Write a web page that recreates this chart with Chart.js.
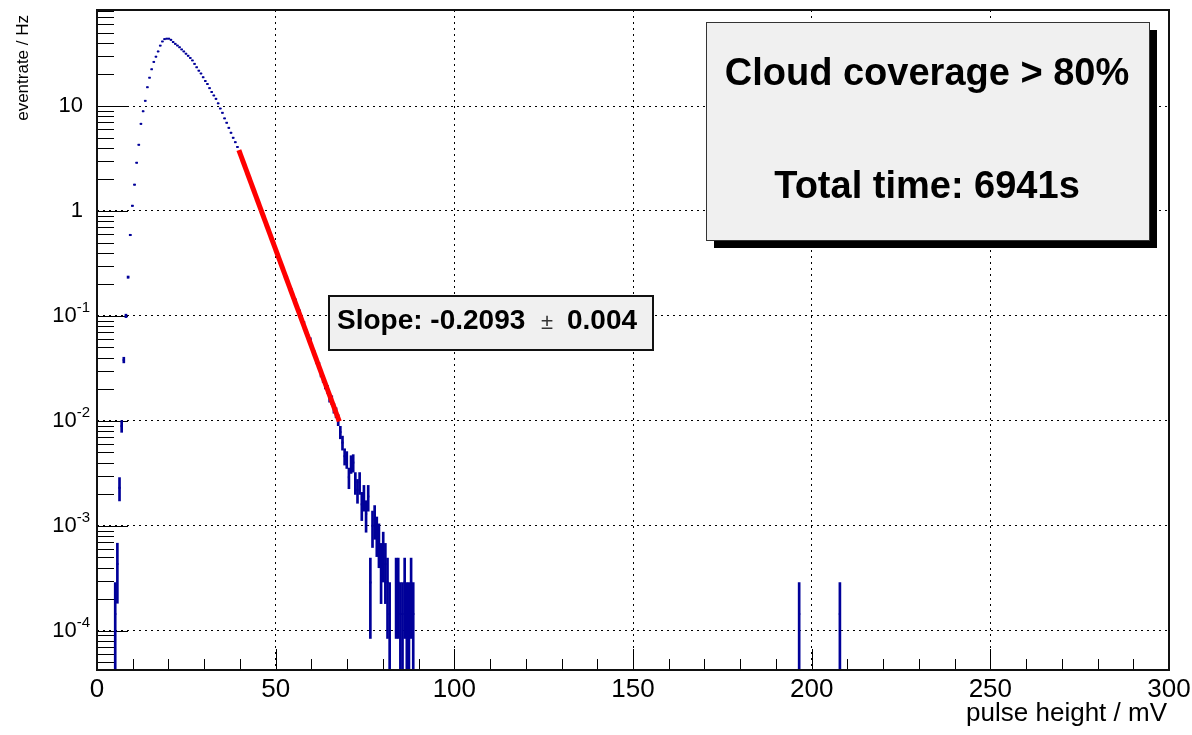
<!DOCTYPE html>
<html>
<head>
<meta charset="utf-8">
<script src="https://cdn.jsdelivr.net/npm/chart.js@4.4.0/dist/chart.umd.min.js"></script>
<style>
  html, body { margin: 0; padding: 0; background: #fff; }
  canvas { display: block; }
</style>
</head>
<body>
<canvas id="pulseChart" width="1192" height="735"></canvas>
<script>
const TOTAL_TIME = 6941; // s, rate = counts / time

// bin centres (mV) and event rate (Hz)
const pulseHeight = [
  5.1, 5.7, 6.3, 6.9, 7.5, 8.1, 8.7, 9.3, 9.9, 10.5, 11.1, 11.7, 12.3, 12.9, 13.5, 14.1,
  14.7, 15.3, 15.9, 16.5, 17.1, 17.7, 18.3, 18.9, 19.5, 20.1, 20.7, 21.3, 21.9, 22.5, 23.1,
  23.7, 24.3, 24.9, 25.5, 26.1, 26.7, 27.3, 27.9, 28.5, 29.1, 29.7, 30.3, 30.9, 31.5, 32.1,
  32.7, 33.3, 33.9, 34.5, 35.1, 35.7, 36.3, 36.9, 37.5, 38.1, 38.7, 39.3, 39.9, 40.5, 41.1,
  41.7, 42.3, 42.9, 43.5, 44.1, 44.7, 45.3, 45.9, 46.5, 47.1, 47.7, 48.3, 48.9, 49.5, 50.1,
  50.7, 51.3, 51.9, 52.5, 53.1, 53.7, 54.3, 54.9, 55.5, 56.1, 56.7, 57.3, 57.9, 58.5, 59.1,
  59.7, 60.3, 60.9, 61.5, 62.1, 62.7, 63.3, 63.9, 64.5, 65.1, 65.7, 66.3, 66.9, 67.5, 68.1,
  68.7, 69.3, 69.9, 70.5, 71.1, 71.7, 72.3, 72.9, 73.5, 74.1, 74.7, 75.3, 75.9, 76.5, 77.1,
  77.7, 78.3, 78.9, 79.5, 80.1, 80.7, 81.3, 81.9, 83.7, 84.3, 84.9, 85.5, 86.1, 86.7, 87.3,
  87.9, 88.5, 196.5, 207.9
];
const eventRate = [
  0.000144, 0.000432, 0.0023, 0.0089, 0.038, 0.100, 0.234, 0.59, 1.12, 1.78, 2.88, 4.27, 6.76, 8.91, 11.2, 15.1,
  18.6, 22.4, 26.3, 29.5, 33.1, 37.6, 41.2, 43.4, 43.8, 43.8, 42.7, 40.7, 39.1, 37.7, 36.3,
  34.6, 33.1, 31.5, 30.1, 28.7, 27.2, 25.2, 23.4, 21.7, 20.4, 18.8, 17.3, 16.2, 14.8, 13.6,
  12.6, 11.7, 10.6, 9.46, 8.61, 7.62, 6.92, 6.19, 5.56, 4.98, 4.52, 4.07, 3.63, 3.16, 2.82,
  2.51, 2.14, 1.95, 1.66, 1.51, 1.29, 1.17, 1.00, 0.89, 0.81, 0.69, 0.63, 0.54, 0.49, 0.42,
  0.38, 0.324, 0.295, 0.251, 0.234, 0.195, 0.178, 0.151, 0.141, 0.117, 0.110, 0.091, 0.085, 0.071, 0.063,
  0.059, 0.048, 0.0437, 0.0372, 0.0339, 0.0282, 0.0251, 0.0219, 0.0200, 0.0166, 0.0158, 0.0132, 0.0120, 0.0102, 0.0078,
  0.0062, 0.0046, 0.0043, 0.0029, 0.0039, 0.0040, 0.0026, 0.0022, 0.0026, 0.0016, 0.0019, 0.0013, 0.0019, 0.000288, 0.0010,
  0.00115, 0.00086, 0.00072, 0.00043, 0.00058, 0.00043, 0.000288, 0.000144, 0.000288, 0.000288, 0.000144, 0.000144, 0.000288, 0.000144, 0.000144,
  0.000288, 0.000144, 0.000144, 0.000144
];

// exponential fit, end points of the red line
const fitX = [39.7, 67.8];
const fitY = [3.79, 0.0099];

const yDecades = [10, 1, 0.1, 0.01, 0.001, 0.0001];
const yDecadeBase = ['10', '1', '10', '10', '10', '10'];
const yDecadeExp = ['', '', '-1', '-2', '-3', '-4'];

const xTitle = 'pulse height / mV';
const yTitle = 'eventrate / Hz';
const infoLines = ['Cloud coverage > 80%', 'Total time: 6941s'];
const slopeText = ['Slope: -0.2093', '\u00b1', '0.004'];

const Y_MIN = 4.22e-5;
const Y_MAX = 82.2;
const FONT = "'Liberation Sans', Arial, Helvetica, sans-serif";
const navy = 'rgb(0,0,153)';

const isDecade = v => Math.abs(Math.log10(v) - Math.round(Math.log10(v))) < 1e-6;

// y tick positions 1..9 x 10^n inside the range
const yTickValues = [];
for (let e = -5; e <= 1; e++) {
  for (let m = 1; m <= 9; m++) {
    const v = m * Math.pow(10, e);
    if (v > Y_MIN && v < Y_MAX) yTickValues.push(v);
  }
}

const points = pulseHeight.map((x, i) => ({ x, y: eventRate[i] }));
const errorBars = pulseHeight.map((x, i) => {
  const err = Math.sqrt(eventRate[i] / TOTAL_TIME);
  let lo = eventRate[i] - err;
  if (lo < eventRate[i] * 1e-3) lo = 1e-9; // down to nothing: runs off the bottom
  return { x, y: [lo, eventRate[i] + err] };
});

const rootStyle = {
  id: 'rootStyle',
  beforeDatasetsDraw(chart) {
    const { ctx, chartArea: a, scales: { x, y } } = chart;
    ctx.save();
    ctx.strokeStyle = '#000';
    ctx.lineWidth = 1;
    ctx.beginPath();
    x.ticks.forEach(t => {
      const px = Math.round(x.getPixelForValue(t.value)) + 0.5;
      const len = t.value % 50 === 0 ? 21 : 11;
      ctx.moveTo(px, a.bottom);
      ctx.lineTo(px, a.bottom - len);
    });
    yTickValues.forEach(v => {
      const py = Math.round(y.getPixelForValue(v)) + 0.5;
      const len = isDecade(v) ? 31 : 17;
      ctx.moveTo(a.left, py);
      ctx.lineTo(a.left + len, py);
    });
    ctx.stroke();
    ctx.restore();
  },
  afterDraw(chart) {
    const { ctx, chartArea: a, scales: { y } } = chart;
    ctx.save();
    // frame
    ctx.strokeStyle = '#111';
    ctx.lineWidth = 2;
    ctx.strokeRect(a.left, a.top, a.right - a.left, a.bottom - a.top);

    // y labels with exponents
    ctx.fillStyle = '#000';
    ctx.textBaseline = 'middle';
    ctx.textAlign = 'right';
    yDecades.forEach((v, i) => {
      const py = y.getPixelForValue(v);
      if (!yDecadeExp[i]) {
        ctx.font = '22px ' + FONT;
        ctx.fillText(yDecadeBase[i], 83, py);
      } else {
        ctx.font = '15px ' + FONT;
        const w = ctx.measureText(yDecadeExp[i]).width;
        ctx.fillText(yDecadeExp[i], 90, py - 8);
        ctx.font = '22px ' + FONT;
        ctx.fillText(yDecadeBase[i], 90 - w, py);
      }
    });

    // axis titles
    ctx.textBaseline = 'alphabetic';
    ctx.font = '26px ' + FONT;
    ctx.textAlign = 'right';
    ctx.fillText(xTitle, 1167, 721);
    ctx.save();
    ctx.translate(28, 15);
    ctx.rotate(-Math.PI / 2);
    ctx.font = '17px ' + FONT;
    ctx.fillText(yTitle, 0, 0);
    ctx.restore();

    // info box with shadow
    ctx.fillStyle = '#000';
    ctx.fillRect(714, 30, 443, 218);
    ctx.fillStyle = '#f0f0f0';
    ctx.fillRect(706, 22, 443, 218);
    ctx.strokeStyle = '#333';
    ctx.lineWidth = 1;
    ctx.strokeRect(706.5, 22.5, 443, 218);
    ctx.fillStyle = '#000';
    ctx.textAlign = 'center';
    ctx.font = 'bold 38px ' + FONT;
    ctx.fillText(infoLines[0], 927, 85);
    ctx.fillText(infoLines[1], 927, 198);

    // slope box
    ctx.fillStyle = '#f0f0f0';
    ctx.fillRect(329, 296, 324, 54);
    ctx.strokeStyle = '#111';
    ctx.lineWidth = 2;
    ctx.strokeRect(329, 296, 324, 54);
    ctx.fillStyle = '#000';
    ctx.textAlign = 'left';
    ctx.font = 'bold 28px ' + FONT;
    ctx.fillText(slopeText[0], 337, 329);
    ctx.fillText(slopeText[2], 567, 329);
    ctx.font = '22px ' + FONT;
    ctx.fillStyle = '#333';
    ctx.fillText(slopeText[1], 541, 329);
    ctx.restore();
  }
};

new Chart(document.getElementById('pulseChart'), {
  type: 'scatter',
  data: {
    datasets: [
      {
        type: 'line',
        data: fitX.map((x, i) => ({ x, y: fitY[i] })),
        borderColor: 'rgb(255,0,0)',
        borderWidth: 5,
        pointRadius: 0,
        fill: false,
        order: 0
      },
      {
        data: points,
        pointStyle: 'line',
        pointRadius: 1.1,
        borderWidth: 2,
        borderColor: navy,
        backgroundColor: navy,
        order: 1
      },
      {
        type: 'bar',
        data: errorBars,
        barThickness: 2,
        backgroundColor: navy,
        borderWidth: 0,
        order: 2
      }
    ]
  },
  options: {
    responsive: false,
    animation: false,
    layout: { padding: { top: 10, right: 23, left: 0, bottom: 0 } },
    plugins: { legend: { display: false }, tooltip: { enabled: false } },
    scales: {
      x: {
        type: 'linear',
        min: 0,
        max: 300,
        offset: false,
        afterFit: s => { s.height = 65; s.paddingLeft = 0; s.paddingRight = 0; },
        ticks: {
          stepSize: 10,
          autoSkip: false,
          maxRotation: 0,
          padding: 4,
          color: '#000',
          font: { family: FONT, size: 26 },
          callback: v => (v % 50 === 0 ? String(v) : '')
        },
        grid: {
          offset: false,
          drawTicks: false,
          lineWidth: 1,
          color: c => (c.tick && c.tick.value % 50 === 0 && c.tick.value > 0 && c.tick.value < 300 ? '#000' : 'rgba(0,0,0,0)')
        },
        border: { display: false, dash: [2, 4] }
      },
      y: {
        type: 'logarithmic',
        min: Y_MIN,
        max: Y_MAX,
        afterFit: s => { s.width = 97; s.paddingTop = 0; s.paddingBottom = 0; },
        afterBuildTicks: s => { s.ticks = yTickValues.map(v => ({ value: v })); },
        ticks: { display: false },
        grid: {
          drawTicks: false,
          lineWidth: 1,
          color: c => (c.tick && isDecade(c.tick.value) ? '#000' : 'rgba(0,0,0,0)')
        },
        border: { display: false, dash: [2, 4] }
      }
    }
  },
  plugins: [rootStyle]
});
</script>
</body>
</html>
